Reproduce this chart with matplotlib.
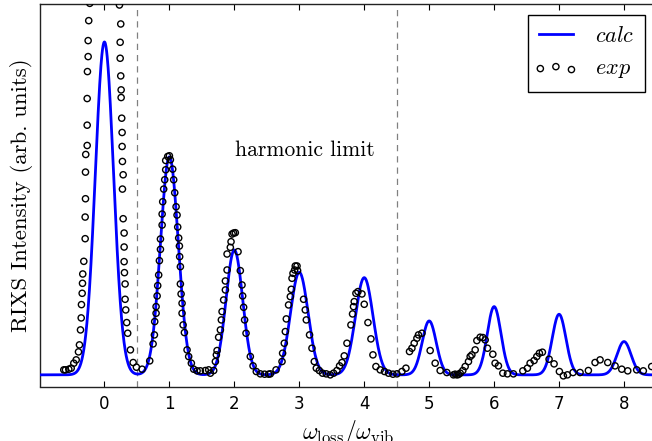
import numpy as np
import matplotlib
matplotlib.use("Agg")
import matplotlib.pyplot as plt
from matplotlib.collections import PathCollection
from matplotlib.legend_handler import HandlerPathCollection

plt.rcParams["mathtext.fontset"] = "cm"

# calculated RIXS: line positions, intensities and broadening per line
calc_pos = [0, 1, 2, 3, 4, 5, 6, 7, 8]
calc_int = [1.0, 0.655, 0.375, 0.308, 0.292, 0.162, 0.205, 0.182, 0.100]
calc_sigma = [0.14, 0.137, 0.128, 0.135, 0.135, 0.108, 0.105, 0.105, 0.108]

# measured spectrum (energy loss in units of omega_vib, intensity)
exp_x = [
    -0.626, -0.600, -0.549, -0.512, -0.472, -0.435, -0.400, -0.385, -0.369, -0.358,
    -0.354, -0.343, -0.338, -0.334, -0.318, -0.297, -0.297, -0.292, -0.292, -0.288,
    -0.266, -0.266, -0.266, -0.262, -0.251, -0.251, -0.242, -0.226,
    0.231, 0.251, 0.242, 0.242, 0.251, 0.257, 0.257, 0.266, 0.272, 0.272,
    0.277, 0.288, 0.277, 0.288, 0.303, 0.303, 0.303, 0.308, 0.318, 0.318,
    0.328, 0.343, 0.358, 0.400, 0.442, 0.492, 0.580, 0.697,
    0.749, 0.769, 0.774, 0.795, 0.795, 0.811, 0.820, 0.835, 0.846, 0.862,
    0.862, 0.888, 0.888, 0.897, 0.912, 0.928, 0.943, 0.943, 0.974, 1.000,
    1.015, 1.051, 1.066, 1.082, 1.103, 1.118, 1.128, 1.143, 1.154, 1.158,
    1.169, 1.169, 1.180, 1.195, 1.195, 1.211, 1.231, 1.272, 1.297, 1.338,
    1.374, 1.426, 1.477, 1.554, 1.605,
    1.631, 1.682, 1.708, 1.723, 1.734, 1.758, 1.785, 1.800, 1.811, 1.835,
    1.862, 1.862, 1.888, 1.888, 1.938, 1.949, 1.965, 1.989, 2.015, 2.057,
    2.092, 2.118, 2.128, 2.143, 2.158, 2.180, 2.246, 2.288, 2.338, 2.400,
    2.466, 2.528,
    2.554, 2.642, 2.734, 2.743, 2.769, 2.785, 2.800, 2.835, 2.862, 2.877,
    2.888, 2.903, 2.928, 2.938, 2.965, 2.974, 3.066, 3.092, 3.108, 3.158,
    3.195, 3.231, 3.262, 3.308, 3.358, 3.415, 3.477, 3.528, 3.580, 3.620,
    3.657,
    3.692, 3.734, 3.795, 3.820, 3.835, 3.846, 3.872, 3.903, 3.965, 4.000,
    4.057, 4.103, 4.134, 4.180, 4.246, 4.312, 4.374, 4.442, 4.503, 4.580,
    4.642,
    4.697, 4.734, 4.769, 4.811, 4.835, 4.888, 5.015, 5.092, 5.169, 5.272,
    5.374, 5.400, 5.426, 5.450, 5.477,
    5.518, 5.554, 5.605, 5.631, 5.657, 5.708, 5.734, 5.785, 5.826, 5.862,
    5.897, 5.980, 6.015, 6.066, 6.134, 6.205, 6.297,
    6.442, 6.512, 6.554, 6.615, 6.657, 6.697, 6.743, 6.846, 6.923, 7.005,
    7.066, 7.128, 7.215, 7.323, 7.451,
    7.554, 7.631, 7.749, 7.862, 7.965, 8.057, 8.195, 8.297, 8.426,
]
exp_y = [
    0.015, 0.015, 0.017, 0.020, 0.035, 0.045, 0.069, 0.090, 0.135, 0.171,
    0.211, 0.245, 0.275, 0.303, 0.341, 0.409, 0.474, 0.529, 0.609, 0.662,
    0.689, 0.750, 0.830, 0.911, 0.956, 1.004, 1.064, 1.116,
    1.111, 1.054, 0.999, 0.951, 0.898, 0.856, 0.833, 0.771, 0.728, 0.686,
    0.641, 0.601, 0.558, 0.469, 0.426, 0.384, 0.340, 0.307, 0.273, 0.227,
    0.195, 0.157, 0.125, 0.075, 0.037, 0.023, 0.017, 0.042,
    0.093, 0.120, 0.160, 0.185, 0.205, 0.237, 0.268, 0.300, 0.343, 0.377,
    0.408, 0.450, 0.483, 0.520, 0.558, 0.586, 0.616, 0.644, 0.656, 0.658,
    0.646, 0.618, 0.586, 0.547, 0.505, 0.480, 0.444, 0.411, 0.387, 0.355,
    0.325, 0.273, 0.243, 0.215, 0.185, 0.150, 0.127, 0.075, 0.055, 0.035,
    0.017, 0.012, 0.012, 0.013, 0.015,
    0.005, 0.013, 0.040, 0.060, 0.073, 0.113, 0.135, 0.165, 0.190, 0.225,
    0.255, 0.282, 0.315, 0.363, 0.383, 0.400, 0.423, 0.426, 0.427, 0.370,
    0.313, 0.270, 0.237, 0.203, 0.165, 0.125, 0.055, 0.027, 0.010, 0.003,
    0.002, 0.002,
    0.003, 0.015, 0.040, 0.065, 0.095, 0.130, 0.168, 0.210, 0.235, 0.257,
    0.290, 0.305, 0.315, 0.327, 0.327, 0.313, 0.227, 0.195, 0.165, 0.120,
    0.080, 0.040, 0.020, 0.013, 0.005, 0.003, 0.000, 0.005, 0.013, 0.027,
    0.037,
    0.057, 0.095, 0.150, 0.183, 0.205, 0.220, 0.245, 0.250, 0.243, 0.212,
    0.157, 0.108, 0.060, 0.025, 0.015, 0.010, 0.005, 0.002, 0.003, 0.010,
    0.020,
    0.070, 0.080, 0.095, 0.110, 0.120, 0.125, 0.073, 0.035, 0.013, 0.007,
    0.000, 0.002, 0.000, 0.001, 0.005,
    0.013, 0.025, 0.040, 0.055, 0.060, 0.075, 0.103, 0.113, 0.112, 0.105,
    0.080, 0.062, 0.035, 0.027, 0.005, 0.003, 0.003,
    0.012, 0.020, 0.035, 0.043, 0.055, 0.065, 0.068, 0.047, 0.033, 0.010,
    -0.003, 0.000, 0.007, 0.007, 0.013,
    0.037, 0.045, 0.037, 0.027, 0.017, 0.012, 0.015, 0.012, 0.025,
]

# broadened stick spectrum on a fine grid
w = np.linspace(-1.0, 8.6, 2000)
spec = np.zeros_like(w)
for p, a, s in zip(calc_pos, calc_int, calc_sigma):
    spec += a * np.exp(-0.5 * ((w - p) / s) ** 2)

fig = plt.figure(figsize=(6.52, 4.41), dpi=100)
ax = fig.add_axes([39.5 / 652, 54.5 / 441, 617.0 / 652, 382.5 / 441])

ax.plot(w, spec, color="#0000ff", lw=2.0, label=r"$calc$", zorder=3)
ax.scatter(exp_x, exp_y, s=20, facecolors="none", edgecolors="black",
           linewidths=1.0, label=r"$exp$", zorder=4)

for xv in (0.5, 4.5):
    ax.axvline(xv, color="gray", ls="--", lw=0.9, dashes=(5, 4))

ax.text(3.09, 0.676, "harmonic limit", family="cmr10", fontsize=15.5,
        ha="center", va="center")

ax.set_xlim(-1.0, 8.5)
ax.set_ylim(-0.035, 1.114)
ax.set_xticks(range(0, 9))
ax.set_yticks([])
ax.tick_params(axis="x", direction="in", top=True, length=4, width=0.8,
               labelsize=12, pad=6)
for sp in ax.spines.values():
    sp.set_linewidth(1.0)
    sp.set_color("#222222")

ax.set_xlabel(r"$\omega_{\rm loss}/\omega_{\rm vib}$", fontsize=17, labelpad=4)
ax.set_ylabel("RIXS Intensity (arb. units)", family="cmr10", fontsize=16.5,
              labelpad=5)

leg = ax.legend(loc="upper right", bbox_to_anchor=(0.982, 0.971),
                borderaxespad=0, fontsize=16, scatterpoints=3,
                scatteryoffsets=[0.375, 0.5, 0.3125],
                handler_map={PathCollection: HandlerPathCollection(marker_pad=0.05)},
                fancybox=False, edgecolor="black", framealpha=1,
                handlelength=1.5, handletextpad=1.0, borderpad=0.5,
                labelspacing=0.55)
leg.get_frame().set_linewidth(1.0)

fig.savefig("out.png", dpi=100)
